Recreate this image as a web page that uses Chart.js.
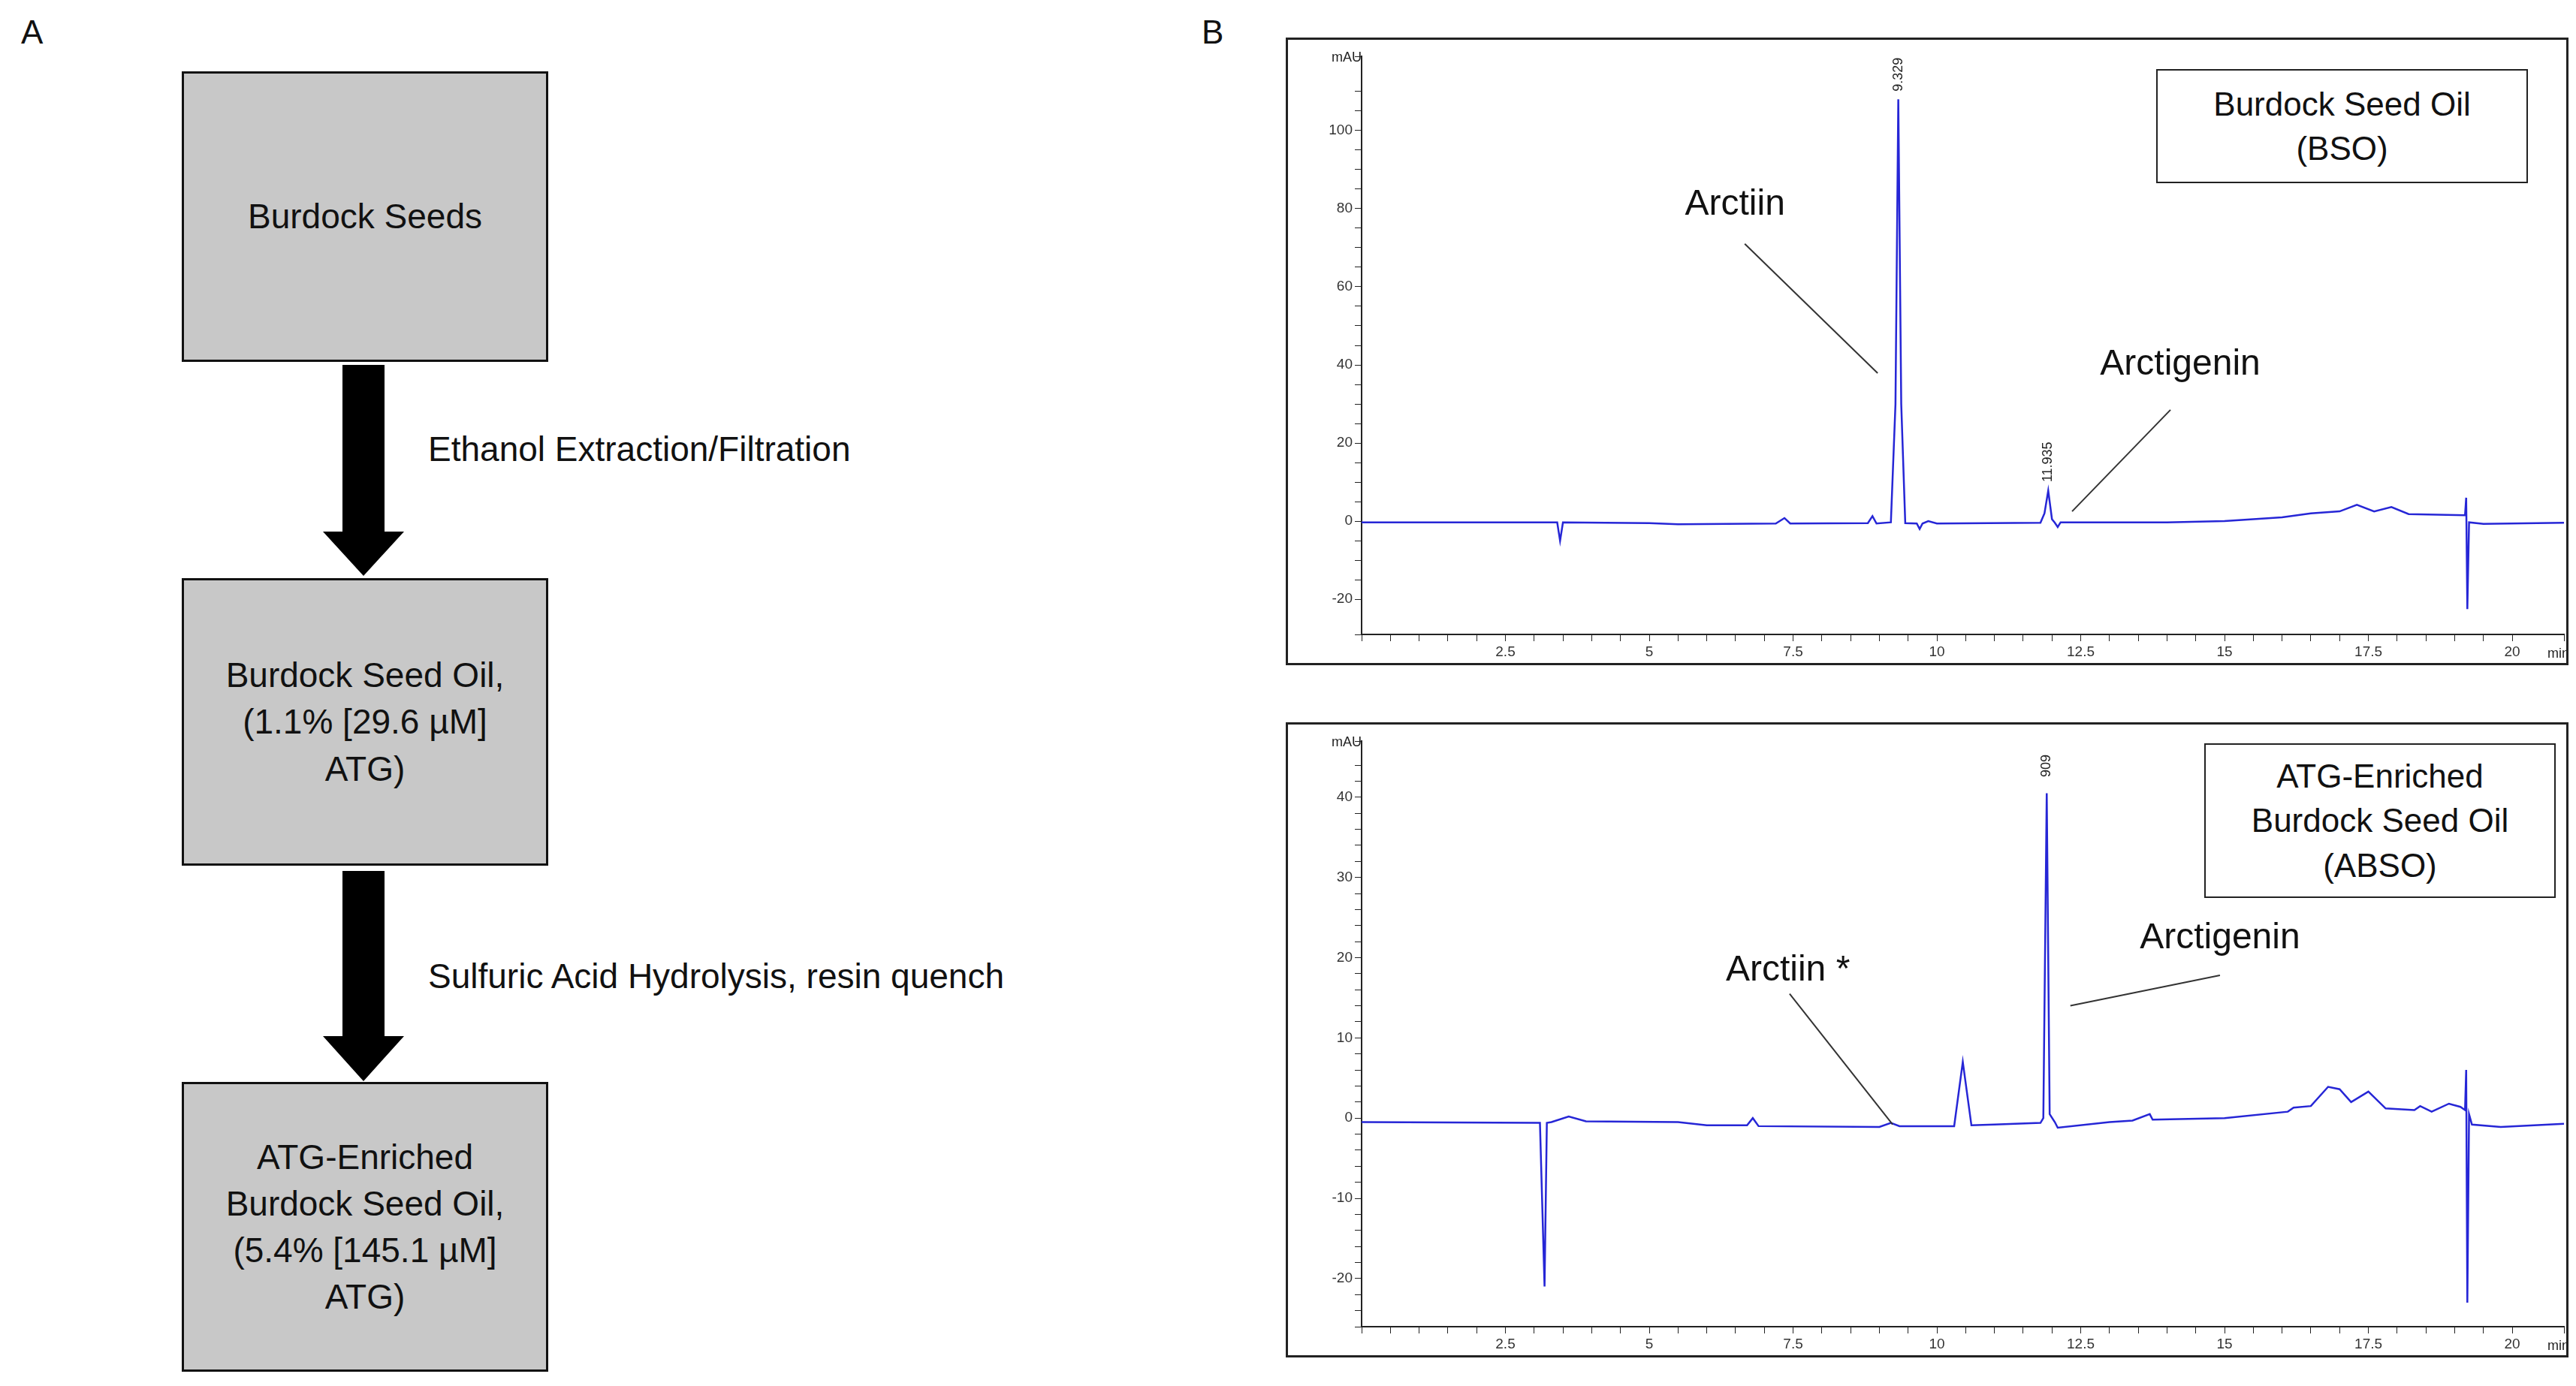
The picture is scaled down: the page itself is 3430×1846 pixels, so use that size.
<!DOCTYPE html>
<html>
<head>
<meta charset="utf-8">
<script src="https://cdn.jsdelivr.net/npm/chart.js@4"></script>
<style>
  body { margin: 0; width: 3430px; height: 1846px; background: #fff; position: relative; font-family: Arial, "Liberation Sans", sans-serif; overflow: hidden; }
  .abs { position: absolute; }
  .panel { position: absolute; font-size: 44px; color: #111; }
  .box { position: absolute; left: 242px; width: 482px; background: #c8c8c8; border: 3px solid #111; display: flex; align-items: center; justify-content: center; text-align: center; font-size: 46px; line-height: 1.35; color: #111; }
  .step { position: absolute; left: 570px; font-size: 46px; color: #111; transform: translateY(-50%); }
  .frame { position: absolute; border: 3px solid #222; box-sizing: border-box; }
  .legend { position: absolute; border: 2px solid #222; background: #fff; display: flex; align-items: center; justify-content: center; text-align: center; font-size: 44px; line-height: 1.35; color: #111; }
</style>
</head>
<body>
<div class="panel" style="left:28px;top:18px">A</div>
<div class="panel" style="left:1600px;top:18px">B</div>

<div class="box" style="top:95px;height:381px">Burdock Seeds</div>
<div class="box" style="top:770px;height:377px">Burdock Seed Oil,<br>(1.1% [29.6 µM]<br>ATG)</div>
<div class="box" style="top:1441px;height:380px">ATG-Enriched<br>Burdock Seed Oil,<br>(5.4% [145.1 µM]<br>ATG)</div>

<svg class="abs" style="left:0;top:0" width="1000" height="1846">
  <polygon points="456,486 512,486 512,708 538,708 484,767 430,708 456,708" fill="#000"/>
  <polygon points="456,1160 512,1160 512,1380 538,1380 484,1440 430,1380 456,1380" fill="#000"/>
</svg>
<div class="step" style="top:598px">Ethanol Extraction/Filtration</div>
<div class="step" style="top:1300px">Sulfuric Acid Hydrolysis, resin quench</div>

<div class="frame" style="left:1712px;top:50px;width:1708px;height:836px">
  <canvas id="bso"></canvas>
</div>
<div class="frame" style="left:1712px;top:962px;width:1708px;height:846px">
  <canvas id="abso"></canvas>
</div>
<div class="legend" style="left:2871px;top:92px;width:491px;height:148px">Burdock Seed Oil<br>(BSO)</div>
<div class="legend" style="left:2935px;top:990px;width:464px;height:202px">ATG-Enriched<br>Burdock Seed Oil<br>(ABSO)</div>

<script>
// retention time (min) and absorbance (mAU)
const bsoTime = [0, 3.4, 3.45, 3.5, 5, 5.5, 7.2, 7.35, 7.45, 8.8, 8.88, 8.95, 9.2, 9.28, 9.329, 9.38, 9.45, 9.65, 9.7, 9.75, 9.85, 10, 11.8, 11.87, 11.935, 12.0, 12.05, 12.1, 12.15, 14, 15, 16, 16.5, 17, 17.3, 17.6, 17.9, 18.2, 19.18, 19.2, 19.22, 19.25, 19.5, 20.9];
const bsoMau  = [-0.3, -0.3, -5, -0.3, -0.5, -0.8, -0.6, 0.8, -0.6, -0.5, 1.3, -0.6, -0.3, 30, 108, 30, -0.5, -0.6, -2, -0.6, 0, -0.6, -0.4, 2, 7.8, 0.5, -0.4, -1.5, -0.3, -0.3, 0, 1, 2, 2.5, 4.2, 2.5, 3.6, 1.8, 1.5, 6, -22.5, -0.3, -0.7, -0.4];

const absoTime = [0, 3.1, 3.18, 3.22, 3.3, 3.6, 3.9, 5.5, 6, 6.7, 6.8, 6.9, 9, 9.2, 9.35, 10.3, 10.45, 10.6, 11, 11.8, 11.85, 11.909, 11.96, 12.05, 12.1, 13, 13.4, 13.7, 13.75, 15, 16.1, 16.2, 16.5, 16.8, 17, 17.2, 17.5, 17.8, 18.3, 18.4, 18.6, 18.9, 19.1, 19.18, 19.2, 19.22, 19.25, 19.3, 19.8, 20.9];
const absoMau  = [-0.5, -0.6, -21, -0.6, -0.5, 0.2, -0.4, -0.5, -0.9, -0.9, 0, -1, -1.1, -0.6, -1, -1, 7, -0.9, -0.8, -0.6, 0, 40.5, 0.5, -0.5, -1.2, -0.5, -0.3, 0.5, -0.2, 0, 0.8, 1.3, 1.5, 3.9, 3.6, 2, 3.3, 1.2, 1, 1.5, 0.8, 1.8, 1.4, 1, 6, -23, 0.5, -0.8, -1.1, -0.7];

// peak labels and annotations (data coordinates)
const bsoPeaks = [{ t: 9.329, y: 110, text: '9.329' }, { t: 11.935, y: 10, text: '11.935' }];
const absoPeaks = [{ t: 11.909, y: 42.5, text: '909' }];
const bsoNotes = [
  { text: 'Arctiin', x: 6.49, y: 81, from: [6.66, 71], to: [8.97, 37.9] },
  { text: 'Arctigenin', x: 14.23, y: 40, from: [14.06, 28.5], to: [12.35, 2.5] }
];
const absoNotes = [
  { text: 'Arctiin *', x: 7.41, y: 18.4, from: [7.44, 15.5], to: [9.23, -0.8] },
  { text: 'Arctigenin', x: 14.92, y: 22.4, from: [14.92, 17.8], to: [12.32, 14] }
];

const xMin = 0, xMax = 20.9;

const annotate = {
  id: 'annotate',
  afterDraw(chart) {
    const o = chart.options.plugins.annotate;
    const { ctx, scales: { x, y } } = chart;
    ctx.save();
    ctx.fillStyle = '#222';
    ctx.font = '18px "Liberation Sans", Arial';
    ctx.textAlign = 'left';
    ctx.textBaseline = 'middle';
    ctx.fillText('mAU', x.left - 40, y.top + 2);
    ctx.fillText('min', x.right - 22, y.bottom + 26);
    o.peaks.forEach(p => {
      ctx.save();
      ctx.translate(x.getPixelForValue(p.t), y.getPixelForValue(p.y));
      ctx.rotate(-Math.PI / 2);
      ctx.textAlign = 'left';
      ctx.fillText(p.text, 0, 0);
      ctx.restore();
    });
    ctx.font = '48px "Liberation Sans", Arial';
    ctx.textAlign = 'center';
    ctx.fillStyle = '#111';
    ctx.strokeStyle = '#333';
    ctx.lineWidth = 2;
    o.notes.forEach(n => {
      ctx.fillText(n.text, x.getPixelForValue(n.x), y.getPixelForValue(n.y));
      ctx.beginPath();
      ctx.moveTo(x.getPixelForValue(n.from[0]), y.getPixelForValue(n.from[1]));
      ctx.lineTo(x.getPixelForValue(n.to[0]), y.getPixelForValue(n.to[1]));
      ctx.stroke();
    });
    ctx.restore();
  }
};

function makeChart(id, times, values, yMin, yMax, yStep, yLabelEvery, peaks, notes) {
  return new Chart(document.getElementById(id), {
    type: 'line',
    data: {
      datasets: [{
        data: times.map((t, i) => ({ x: t, y: values[i] })),
        borderColor: '#2626d6',
        borderWidth: 2.5,
        pointRadius: 0,
        tension: 0
      }]
    },
    options: {
      responsive: true,
      maintainAspectRatio: false,
      animation: false,
      layout: { padding: { top: 22, right: 0, left: 0, bottom: 0 } },
      plugins: { legend: { display: false }, tooltip: { enabled: false }, annotate: { peaks, notes } },
      scales: {
        x: {
          type: 'linear', min: xMin, max: xMax,
          grid: { drawOnChartArea: false, color: '#222', tickLength: 9 },
          border: { color: '#222', width: 2 },
          afterFit: s => { s.height = 38; },
          ticks: {
            stepSize: 0.5, autoSkip: false, maxRotation: 0, color: '#333',
            font: { size: 19, family: '"Liberation Sans", Arial' },
            callback: v => (v > 0 && Math.abs(v / 2.5 - Math.round(v / 2.5)) < 1e-6) ? String(v) : ''
          }
        },
        y: {
          min: yMin, max: yMax,
          grid: { drawOnChartArea: false, color: '#222', tickLength: 9 },
          border: { color: '#222', width: 2 },
          afterFit: s => { s.width = 98; },
          ticks: {
            stepSize: yStep, autoSkip: false, color: '#333',
            font: { size: 19, family: '"Liberation Sans", Arial' },
            callback: v => (v % yLabelEvery === 0) ? String(v) : ''
          }
        }
      }
    },
    plugins: [annotate]
  });
}

makeChart('bso', bsoTime, bsoMau, -29, 119, 5, 20, bsoPeaks, bsoNotes);
makeChart('abso', absoTime, absoMau, -26, 47, 2, 10, absoPeaks, absoNotes);
</script>
</body>
</html>
